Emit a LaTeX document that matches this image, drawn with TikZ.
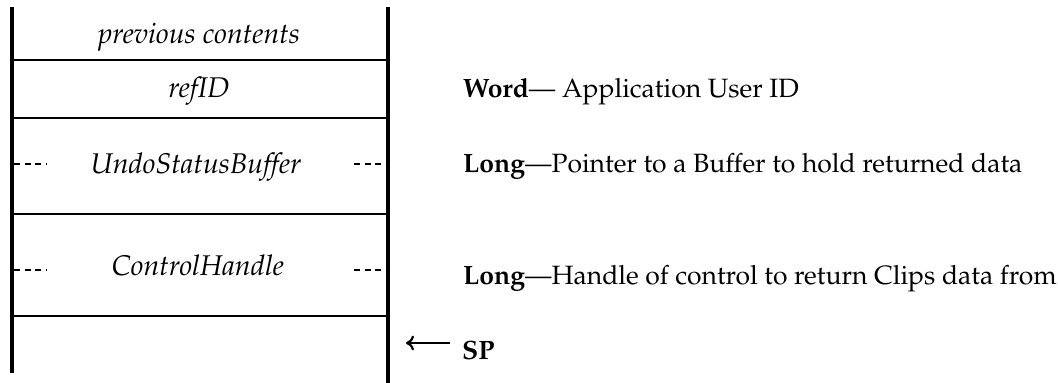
\documentclass[tikz,border=0pt]{standalone}
\usepackage[T1]{fontenc}
\usepackage{mathpazo}
\usetikzlibrary{arrows.meta}
\begin{document}
\begin{tikzpicture}[x=1pt,y=-1pt,
  wall/.style={line width=4.5pt},
  sep/.style={line width=2.6pt},
  dots/.style={line width=2.4pt, dash pattern=on 6pt off 4.5pt},
  cell/.style={font=\fontsize{28.5}{32}\selectfont\itshape, inner sep=0pt, anchor=base},
  desc/.style={font=\fontsize{26.5}{30}\selectfont, inner sep=0pt, anchor=base west}]
\useasboundingbox (0,0) rectangle (1058,383);
% stack walls
\draw[wall] (12,7) -- (12,373);
\draw[wall] (388,7) -- (388,383);
% cell separators
\foreach \y in {60,118,214,316} \draw[sep] (12,\y) -- (388,\y);
% cell contents
\node[cell] (prev) at (199,43) {previous contents};
\node[cell] (ref) at (199,97) {refID};
\node[cell] (undo) at (196,173) {UndoStatusBuffer};
\node[cell] (ctl) at (198,275) {ControlHandle};
% continuation marks for multi-word entries
\draw[dots] (14,164) -- (46,164);
\draw[dots] (354,164) -- (386,164);
\draw[dots] (14,270) -- (46,270);
\draw[dots] (354,270) -- (386,270);
% descriptions
\node[desc] (dref) at (463,97) {\textbf{Word}--- Application User ID};
\node[desc] (dundo) at (463,172) {\textbf{Long}---Pointer to a Buffer to hold returned data};
\node[desc] (dctl) at (463,284) {\textbf{Long}---Handle of control to return Clips data from};
% stack pointer
\node[desc] (sp) at (462,359) {\textbf{SP}};
\coordinate (sptail) at (450,343);
\coordinate (sptip) at (406,343);
\draw[line width=2.2pt, -{To[length=8pt,width=15pt]}] (sptail) -- (sptip);
\end{tikzpicture}
\end{document}
